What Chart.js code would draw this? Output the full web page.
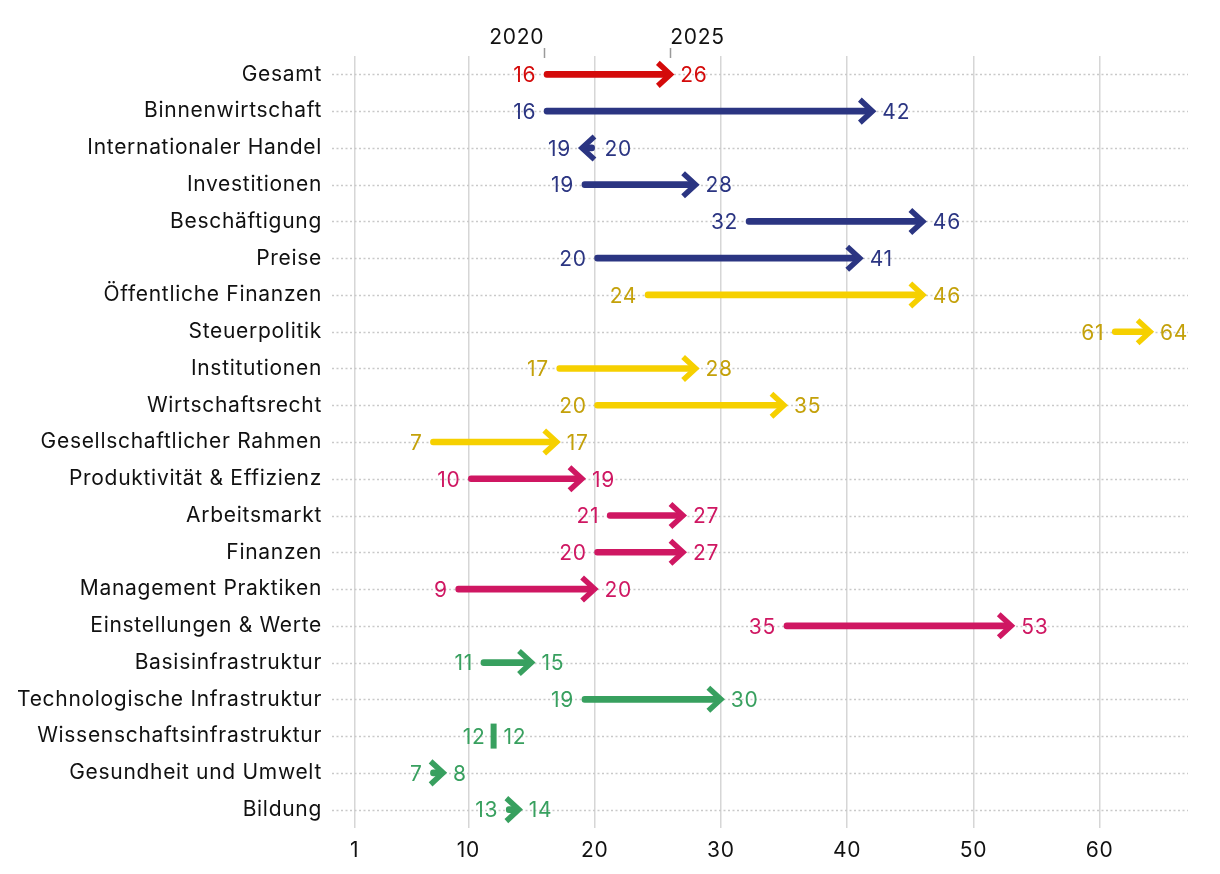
<!DOCTYPE html>
<html>
<head>
<meta charset="utf-8">
<script src="https://cdn.jsdelivr.net/npm/chart.js@4"></script>
<style>
  body { margin: 0; background: #fff; }
  #wrap { width: 1220px; height: 874px; }
</style>
</head>
<body>
<div id="wrap"><canvas id="arrowChart" width="1220" height="874"></canvas></div>
<script>
var categories = [
  "Gesamt", "Binnenwirtschaft", "Internationaler Handel", "Investitionen",
  "Beschäftigung", "Preise", "Öffentliche Finanzen", "Steuerpolitik",
  "Institutionen", "Wirtschaftsrecht", "Gesellschaftlicher Rahmen",
  "Produktivität & Effizienz", "Arbeitsmarkt", "Finanzen",
  "Management Praktiken", "Einstellungen & Werte", "Basisinfrastruktur",
  "Technologische Infrastruktur", "Wissenschaftsinfrastruktur",
  "Gesundheit und Umwelt", "Bildung"
];
var values2020 = [16, 16, 20, 19, 32, 20, 24, 61, 17, 20, 7, 10, 21, 20, 9, 35, 11, 19, 12, 7, 13];
var values2025 = [26, 42, 19, 28, 46, 41, 46, 64, 28, 35, 17, 19, 27, 27, 20, 53, 15, 30, 12, 8, 14];
var groups = [0, 1, 1, 1, 1, 1, 2, 2, 2, 2, 2, 3, 3, 3, 3, 3, 4, 4, 4, 4, 4];
var xTicks = [1, 10, 20, 30, 40, 50, 60];
var yearLabels = ["2020", "2025"];

var lineColors = ["#d40a0a", "#2b3582", "#f6d000", "#cf1762", "#38a05f"];
var textColors = ["#d40a0a", "#2b3582", "#c4a10a", "#cf1762", "#38a05f"];
var FONT = "Inter, 'Liberation Sans', sans-serif";
var SPACING = "0.7px";

// wider tracking, closer to the original typeface
var spacingPlugin = {
  id: "spacing",
  beforeUpdate: function (chart) { chart.ctx.letterSpacing = SPACING; },
  beforeDraw: function (chart) { chart.ctx.letterSpacing = SPACING; }
};

// dotted row lines, arrow heads, value labels and the year header
var arrowPlugin = {
  id: "arrows",
  beforeDatasetsDraw: function (chart) {
    var c = chart.ctx, y = chart.scales.y, a = chart.chartArea;
    c.save();
    c.strokeStyle = "#c9c9c9";
    c.lineWidth = 1.5;
    c.setLineDash([2, 2.5]);
    categories.forEach(function (cat, i) {
      var py = Math.round(y.getPixelForValue(i)) + 0.5;
      c.beginPath();
      c.moveTo(a.left, py);
      c.lineTo(a.right, py);
      c.stroke();
    });
    c.restore();
  },
  afterDatasetsDraw: function (chart) {
    var c = chart.ctx, x = chart.scales.x, y = chart.scales.y;
    c.save();
    c.font = "21px " + FONT;
    c.textBaseline = "middle";
    categories.forEach(function (cat, i) {
      var s = values2020[i], e = values2025[i];
      var xs = x.getPixelForValue(s), xe = x.getPixelForValue(e);
      var py = y.getPixelForValue(i);
      var g = groups[i];
      c.strokeStyle = lineColors[g];
      c.fillStyle = lineColors[g];
      if (s === e) {
        c.fillRect(xe - 3, py - 12.5, 6, 25);
      } else {
        var dir = e > s ? 1 : -1;
        c.lineWidth = 5.5;
        c.lineJoin = "miter";
        c.lineCap = "butt";
        c.beginPath();
        c.moveTo(xe - dir * 12.5, py - 11.5);
        c.lineTo(xe, py);
        c.lineTo(xe - dir * 12.5, py + 11.5);
        c.stroke();
      }
      var lo = Math.min(xs, xe), hi = Math.max(xs, xe);
      var loVal = e < s ? e : s, hiVal = e < s ? s : e;
      c.fillStyle = textColors[g];
      c.textAlign = "right";
      c.fillText(String(loVal), lo - (e < s ? 11 : 8), py + 1.5);
      c.textAlign = "left";
      c.fillText(String(hiVal), hi + 10, py + 1.5);
    });
    // year header above first row
    var top = chart.chartArea.top;
    c.fillStyle = "#111";
    c.strokeStyle = "#9a9a9a";
    c.lineWidth = 1.5;
    var x0 = x.getPixelForValue(values2020[0]), x1 = x.getPixelForValue(values2025[0]);
    [[x0, "right", yearLabels[0]], [x1, "left", yearLabels[1]]].forEach(function (t) {
      c.beginPath();
      c.moveTo(Math.round(t[0]) + 0.5, top - 8);
      c.lineTo(Math.round(t[0]) + 0.5, top + 2);
      c.stroke();
      c.textAlign = t[1];
      c.fillText(t[2], t[0], top - 18);
    });
    c.restore();
  }
};

var ctx = document.getElementById("arrowChart").getContext("2d");
var arrowChart = new Chart(ctx, {
  type: "bar",
  data: {
    labels: categories,
    datasets: [
      {
        data: categories.map(function (c, i) { return [values2020[i], values2025[i]]; }),
        backgroundColor: groups.map(function (g) { return lineColors[g]; }),
        barThickness: 6,
        borderRadius: 3,
        borderSkipped: false
      }
    ]
  },
  options: {
    indexAxis: "y",
    responsive: false,
    animation: false,
    layout: { padding: { top: 56, right: 32, bottom: 0, left: 0 } },
    plugins: { legend: { display: false }, tooltip: { enabled: false } },
    scales: {
      x: {
        type: "linear",
        min: -0.8,
        max: 67,
        afterBuildTicks: function (scale) {
          scale.ticks = xTicks.map(function (v) { return { value: v }; });
        },
        afterFit: function (scale) { scale.height = 46; },
        border: { display: false },
        grid: { color: "#d6d6d6", lineWidth: 1.5, drawTicks: false },
        ticks: {
          padding: 10,
          color: "#111",
          font: { size: 21, family: FONT },
          callback: function (v) { return v; }
        }
      },
      y: {
        afterFit: function (scale) { scale.width = 332; },
        border: { display: false },
        grid: { display: false, drawTicks: false },
        ticks: {
          padding: 10,
          color: "#111",
          font: { size: 21, family: FONT }
        }
      }
    }
  },
  plugins: [spacingPlugin, arrowPlugin]
});
</script>
</body>
</html>
